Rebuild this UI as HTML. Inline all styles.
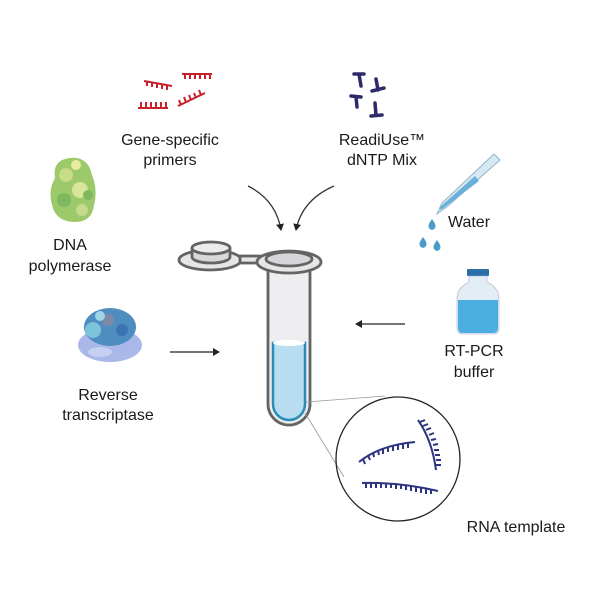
<!DOCTYPE html>
<html><head><meta charset="utf-8"><style>
body{margin:0;background:#fff}
svg{display:block}
text{font-family:"Liberation Sans",sans-serif;font-size:16px;fill:#1a1a1a;text-anchor:middle}
</style></head><body>
<svg width="600" height="600" viewBox="0 0 600 600">
<defs>
<marker id="ah" markerWidth="8" markerHeight="8" refX="6" refY="4" orient="auto" markerUnits="userSpaceOnUse"><path d="M0,0 L7,4 L0,8 Z" fill="#222"/></marker>
</defs>
<!-- primers -->
<g stroke="#c8202a" stroke-width="2" fill="none">
<path d="M144,81 L172,86"/><path d="M147,81v5M152,82v5M157,83v5M162,84v5M167,85v5"/>
<path d="M182,74 L212,74"/><path d="M185,74v5M190,74v5M195,74v5M200,74v5M205,74v5M210,74v5"/>
<path d="M138,108 L168,108"/><path d="M141,108v-6M146,108v-6M151,108v-6M156,108v-6M161,108v-6M166,108v-6"/>
<path d="M178,106 L205,93"/><path d="M181,105l-2,-5M186,102l-2,-5M191,100l-2,-5M196,98l-2,-5M201,95l-2,-5"/>
</g>
<text x="170" y="145">Gene-specific</text><text x="170" y="165">primers</text>
<!-- dNTPs -->
<g stroke="#2e2a6a" stroke-width="3.5" fill="none" stroke-linecap="round">
<path d="M354,74 L364,74 M359,74 L361,86"/>
<path d="M376,79 L378,90 M372,91 L384,88"/>
<path d="M351,96 L361,97 M356,97 L357,107"/>
<path d="M375,103 L376,115 M371,116 L382,115"/>
</g>
<text x="382" y="145">ReadiUse™</text><text x="382" y="165">dNTP Mix</text>
<!-- DNA polymerase -->
<g>
<path d="M55,178 Q52,160 70,158 Q88,156 92,175 Q98,190 94,205 Q92,222 75,222 Q56,222 52,205 Q48,190 55,178Z" fill="#9cc96a"/>
<circle cx="66" cy="175" r="7" fill="#c9dc88"/><circle cx="80" cy="190" r="8" fill="#d8e59a"/><circle cx="64" cy="200" r="7" fill="#7db75e"/><circle cx="82" cy="210" r="6" fill="#c5da8c"/><circle cx="76" cy="165" r="5" fill="#e8eca0"/><circle cx="88" cy="195" r="5" fill="#7fb95d"/>
</g>
<text x="70" y="250">DNA</text><text x="70" y="271">polymerase</text>
<!-- curved arrows -->
<path d="M248,186 Q276,200 281,230" stroke="#333" stroke-width="1.3" fill="none" marker-end="url(#ah)"/>
<path d="M334,186 Q302,200 296,230" stroke="#333" stroke-width="1.3" fill="none" marker-end="url(#ah)"/>
<!-- tube -->
<g stroke="#646464" stroke-width="2.8">
<ellipse cx="210" cy="260" rx="31" ry="10" fill="#e6e6e8"/>
<rect x="240" y="256" width="20" height="7" fill="#e6e6e8"/>
<path d="M192,248 v9 a19,6 0 0 0 38,0 v-9" fill="#d8d8da"/>
<ellipse cx="211" cy="248" rx="19" ry="6" fill="#ececee"/>
<path d="M268,266 V404 a21,21 0 0 0 42,0 V266" fill="#eeeef0"/>
<ellipse cx="289" cy="262" rx="32" ry="11" fill="#e6e6e8"/>
<ellipse cx="289" cy="259" rx="23" ry="7" fill="#d6d6d8"/>
</g>
<path d="M273,343 V404 a16,16 0 0 0 32,0 V343 Z" fill="#b9ddf0" stroke="#2a8db8" stroke-width="2.5"/>
<ellipse cx="289" cy="343" rx="16" ry="3" fill="#fff"/>
<!-- arrows -->
<line x1="170" y1="352" x2="219" y2="352" stroke="#222" stroke-width="1.2" marker-end="url(#ah)"/>
<line x1="405" y1="324" x2="356" y2="324" stroke="#222" stroke-width="1.2" marker-end="url(#ah)"/>
<!-- reverse transcriptase -->
<g>
<ellipse cx="110" cy="345" rx="32" ry="17" fill="#a9b8e8"/>
<ellipse cx="110" cy="327" rx="26" ry="19" fill="#4f8cc0"/>
<circle cx="93" cy="330" r="8" fill="#7ec3dc"/><circle cx="108" cy="320" r="6" fill="#7c8aa8"/><circle cx="122" cy="330" r="6" fill="#3c72b0"/><circle cx="100" cy="316" r="5" fill="#9ed4e6"/>
<ellipse cx="100" cy="352" rx="12" ry="5" fill="#c4cff2"/>
</g>
<text x="108" y="400">Reverse</text><text x="108" y="420">transcriptase</text>
<!-- pipette -->
<path d="M494,154 L500,160 L448,206 L437,214 L442,203 Z" fill="#d8e8f0" stroke="#8fb6cc" stroke-width="1"/>
<path d="M475,176 L479,181 L441,210 L439,208 Z" fill="#6bb0d8"/>
<g fill="#4a9cc8">
<path d="M432,219 q-7,9 0,11 q7,-2 0,-11z"/><path d="M423,237 q-7,9 0,11 q7,-2 0,-11z"/><path d="M437,240 q-7,9 0,11 q7,-2 0,-11z"/>
</g>
<text x="469" y="227">Water</text>
<!-- bottle -->
<rect x="467" y="269" width="22" height="7" rx="1" fill="#2a6fa8"/>
<path d="M469,276 h18 v6 q12,6 12,16 v30 q0,6 -6,6 h-30 q-6,0 -6,-6 v-30 q0,-10 12,-16z" fill="#e3eef4" stroke="#aac" stroke-width="0.6"/>
<path d="M458,300 h40 v28 q0,5 -5,5 h-30 q-5,0 -5,-5z" fill="#4aaee0"/>
<text x="474" y="356">RT-PCR</text><text x="474" y="377">buffer</text>
<!-- zoom lines and circle -->
<line x1="306" y1="402" x2="385" y2="396" stroke="#999" stroke-width="0.8"/>
<line x1="305" y1="413" x2="344" y2="477" stroke="#999" stroke-width="0.8"/>
<circle cx="398" cy="459" r="62" fill="none" stroke="#222" stroke-width="1.3"/>
<g stroke="#2e3580" stroke-width="2" fill="none">
<path d="M359,462 Q380,445 415,442"/>
<path d="M363,459l2,5M368,455l2,5M373,452l1,5M378,450l1,5M383,449l0,5M388,447l0,5M393,446l0,5M398,445l0,5M403,444l0,5M408,443l0,5"/>
<path d="M362,483 Q400,482 438,491"/>
<path d="M366,483v5M371,483v5M376,483v5M381,483v5M386,483v5M391,483v5M396,484v5M401,484v5M406,485v5M411,486v5M416,487v5M421,488v5M426,489v5M431,490v4"/>
<path d="M418,420 Q432,440 436,470"/>
<path d="M420,422l5,-2M423,426l5,-2M426,430l5,-2M429,435l5,-2M431,440l5,-1M433,445l5,-1M434,450l5,0M435,455l5,0M436,460l5,0M436,465l5,0"/>
</g>
<text x="516" y="532">RNA template</text>
</svg>
</body></html>
